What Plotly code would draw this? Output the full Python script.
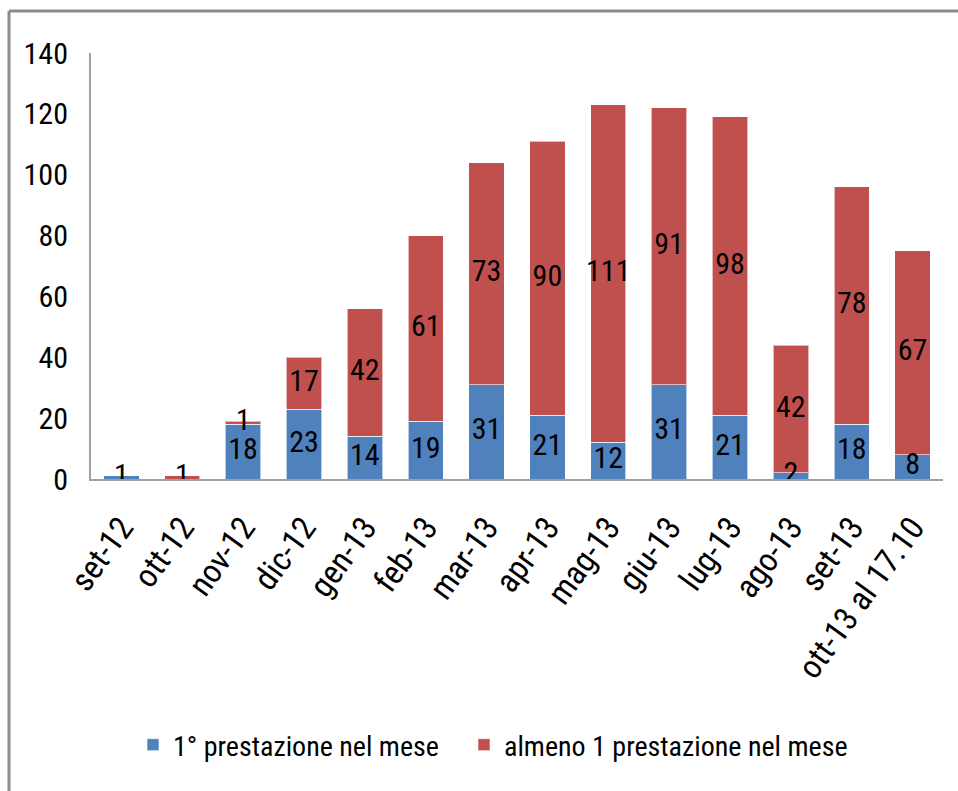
import plotly.graph_objects as go

# Monthly counts of services
months = ["set-12", "ott-12", "nov-12", "dic-12", "gen-13", "feb-13", "mar-13",
          "apr-13", "mag-13", "giu-13", "lug-13", "ago-13", "set-13", "ott-13 al 17.10"]
first_service = [1, 0, 18, 23, 14, 19, 31, 21, 12, 31, 21, 2, 18, 8]
at_least_one = [0, 1, 1, 17, 42, 61, 73, 90, 111, 91, 98, 42, 78, 67]
y_ticks = [0, 20, 40, 60, 80, 100, 120, 140]

series_names = ["1° prestazione nel mese", "almeno 1 prestazione nel mese"]
colors = ["#4F81BD", "#C0504D"]

FONT = "Liberation Sans Narrow, Arial Narrow, Roboto Condensed, Liberation Sans, sans-serif"

W, H = 958, 791
ML, MR, MT, MB = 91, 15, 53, 312
pw = W - ML - MR
ph = H - MT - MB
base_px = H - MB  # pixel row of the x axis


def px_to_paper_y(py):
    return (base_px - py) / ph


def px_to_paper_x(px):
    return (px - ML) / pw


fig = go.Figure()
fig.add_trace(go.Bar(x=months, y=first_service, name=series_names[0], legend="legend",
                     marker=dict(color=colors[0], line=dict(color="rgba(255,255,255,0.6)", width=1))))
fig.add_trace(go.Bar(x=months, y=at_least_one, name=series_names[1], legend="legend2",
                     marker=dict(color=colors[1], line=dict(color="rgba(255,255,255,0.6)", width=1))))

# Value labels centred on each non-empty segment
lx, ly, lt = [], [], []
for m, a, b in zip(months, first_service, at_least_one):
    if a:
        lx.append(m); ly.append(a / 2); lt.append(str(a))
    if b:
        lx.append(m); ly.append(a + b / 2); lt.append(str(b))
fig.add_trace(go.Scatter(x=lx, y=ly, text=lt, mode="text", showlegend=False,
                         hoverinfo="skip",
                         textfont=dict(family=FONT, size=30, color="#000000")))

legend_common = dict(orientation="h", yanchor="middle", xanchor="left",
                     y=px_to_paper_y(745), bgcolor="rgba(0,0,0,0)",
                     font=dict(family=FONT, size=28, color="#000000"))

fig.update_layout(
    width=W, height=H,
    margin=dict(l=ML, r=MR, t=MT, b=MB, pad=0),
    barmode="stack", bargap=0.42,
    paper_bgcolor="white", plot_bgcolor="white",
    font=dict(family=FONT, size=29, color="#000000"),
    showlegend=True,
    legend=dict(x=px_to_paper_x(133), **legend_common),
    legend2=dict(x=px_to_paper_x(464), **legend_common),
    xaxis=dict(type="category", range=[-0.5, len(months) - 0.5],
               tickangle=-54, showline=True, linecolor="#A0A0A0",
               linewidth=2, ticks="", showgrid=False, zeroline=False, automargin=False,
               ticklabelstandoff=14,
               tickfont=dict(family=FONT, size=33, color="#000000")),
    yaxis=dict(range=[0, 140], tickvals=y_ticks, showline=True, linecolor="#A0A0A0",
               linewidth=2, ticks="", showgrid=False, zeroline=False, automargin=False,
               ticklabelstandoff=15,
               tickfont=dict(family=FONT, size=30, color="#000000")),
)

# Outer frame: top and left edges
x_left = px_to_paper_x(9)
y_top = px_to_paper_y(11)
y_bot = px_to_paper_y(H)
fig.add_shape(type="line", xref="paper", yref="paper", x0=x_left, x1=px_to_paper_x(W),
              y0=y_top, y1=y_top, line=dict(color="#8C8C8C", width=3))
fig.add_shape(type="line", xref="paper", yref="paper", x0=x_left, x1=x_left,
              y0=y_top, y1=y_bot, line=dict(color="#8C8C8C", width=3))

fig.write_html("out.html")
